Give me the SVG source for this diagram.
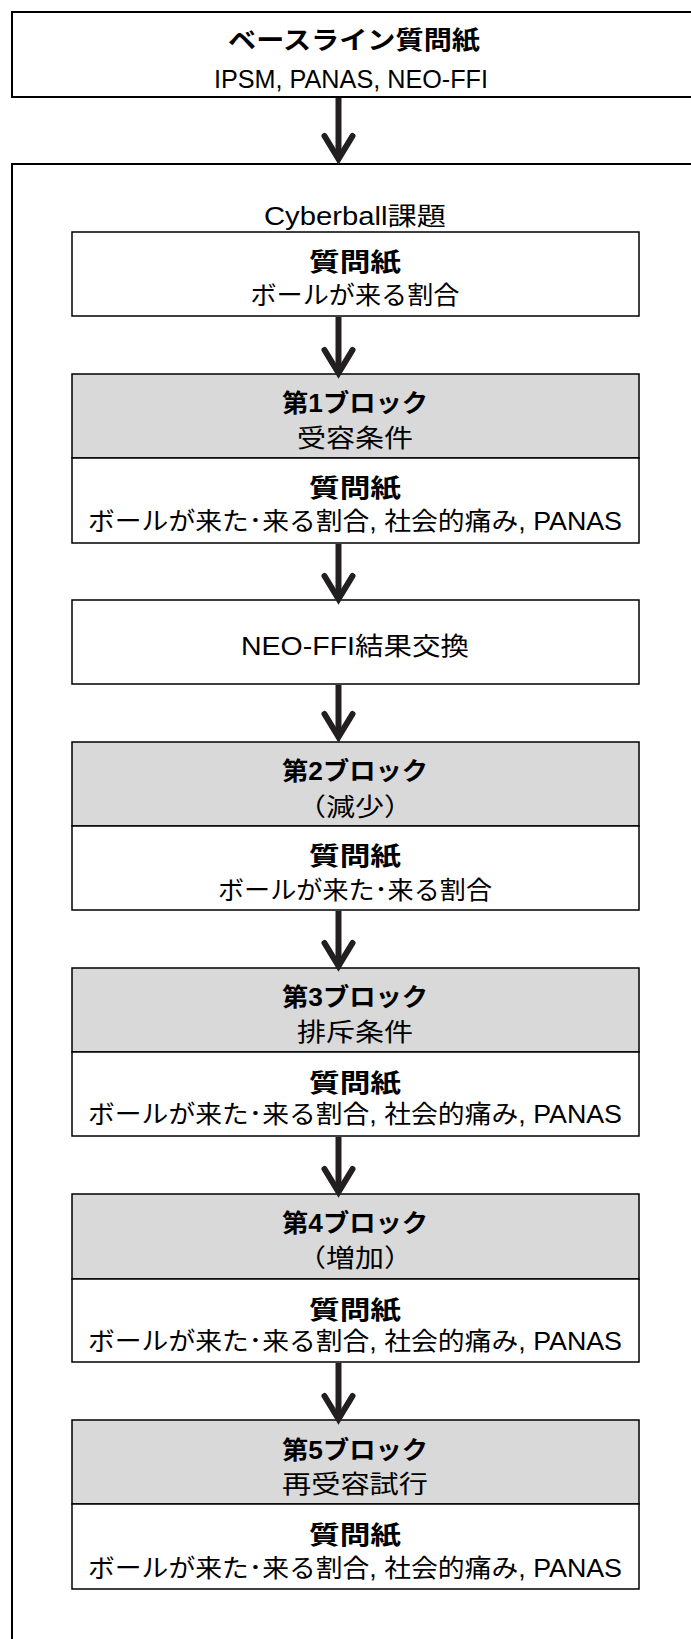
<svg xmlns="http://www.w3.org/2000/svg" width="691" height="1639" viewBox="0 0 691 1639">
<style>
text{font-family:"Liberation Sans","Noto Sans CJK JP",sans-serif;font-size:25px;fill:#000;text-anchor:middle}
.b{font-weight:bold}
.frame{fill:#fff;stroke:#000;stroke-width:2}
.box{fill:#fff;stroke:#000;stroke-width:1.5}
.hdr{fill:#d9d9d9;stroke:#000;stroke-width:1.5}
.conn line{stroke:#231f20;stroke-width:6}
</style>
<defs>
<marker id="ah" markerUnits="userSpaceOnUse" orient="auto" refX="0" refY="0" markerWidth="40" markerHeight="40" viewBox="-30 -20 40 40" overflow="visible">
<path d="M-23,-14 L0,0 L-23,14" fill="none" stroke="#231f20" stroke-width="6" stroke-linecap="round" stroke-linejoin="miter" stroke-miterlimit="10"/>
</marker>
</defs>
<rect width="691" height="1639" fill="#fff"/>

<g id="baseline">
<rect class="frame" x="12" y="12" width="700" height="85"/>
<text class="b" x="354" y="49" textLength="252" lengthAdjust="spacingAndGlyphs">ベースライン質問紙</text>
<text x="351" y="88" textLength="274" lengthAdjust="spacingAndGlyphs">IPSM, PANAS, NEO-FFI</text>
</g>

<g id="cyberball">
<rect class="frame" x="12" y="164" width="700" height="1500"/>
<text x="355" y="225" textLength="182" lengthAdjust="spacingAndGlyphs">Cyberball課題</text>
</g>

<g id="q0">
<rect class="box" x="72" y="232" width="567" height="84"/>
<text class="b" x="355" y="271" textLength="92" lengthAdjust="spacingAndGlyphs">質問紙</text>
<text x="355" y="304" textLength="209" lengthAdjust="spacingAndGlyphs">ボールが来る割合</text>
</g>

<g id="block1">
<rect class="hdr" x="72" y="374" width="567" height="84"/>
<rect class="box" x="72" y="458" width="567" height="85"/>
<text class="b" x="355" y="412" textLength="146" lengthAdjust="spacingAndGlyphs">第1ブロック</text>
<text x="355" y="447" textLength="116" lengthAdjust="spacingAndGlyphs">受容条件</text>
<text class="b" x="355" y="497" textLength="92" lengthAdjust="spacingAndGlyphs">質問紙</text>
<text x="355" y="530" textLength="534" lengthAdjust="spacingAndGlyphs">ボールが来た･来る割合, 社会的痛み, PANAS</text>
</g>

<g id="neo">
<rect class="box" x="72" y="600" width="567" height="84"/>
<text x="355" y="655" textLength="228" lengthAdjust="spacingAndGlyphs">NEO-FFI結果交換</text>
</g>

<g id="block2">
<rect class="hdr" x="72" y="742" width="567" height="84"/>
<rect class="box" x="72" y="826" width="567" height="84"/>
<text class="b" x="355" y="780" textLength="146" lengthAdjust="spacingAndGlyphs">第2ブロック</text>
<text x="355" y="816" textLength="116" lengthAdjust="spacingAndGlyphs">（減少）</text>
<text class="b" x="355" y="865" textLength="92" lengthAdjust="spacingAndGlyphs">質問紙</text>
<text x="355" y="899" textLength="274" lengthAdjust="spacingAndGlyphs">ボールが来た･来る割合</text>
</g>

<g id="block3">
<rect class="hdr" x="72" y="968" width="567" height="84"/>
<rect class="box" x="72" y="1052" width="567" height="84"/>
<text class="b" x="355" y="1006" textLength="146" lengthAdjust="spacingAndGlyphs">第3ブロック</text>
<text x="355" y="1041" textLength="116" lengthAdjust="spacingAndGlyphs">排斥条件</text>
<text class="b" x="355" y="1092" textLength="92" lengthAdjust="spacingAndGlyphs">質問紙</text>
<text x="355" y="1123" textLength="534" lengthAdjust="spacingAndGlyphs">ボールが来た･来る割合, 社会的痛み, PANAS</text>
</g>

<g id="block4">
<rect class="hdr" x="72" y="1194" width="567" height="85"/>
<rect class="box" x="72" y="1279" width="567" height="83"/>
<text class="b" x="355" y="1232" textLength="146" lengthAdjust="spacingAndGlyphs">第4ブロック</text>
<text x="355" y="1267" textLength="116" lengthAdjust="spacingAndGlyphs">（増加）</text>
<text class="b" x="355" y="1319" textLength="92" lengthAdjust="spacingAndGlyphs">質問紙</text>
<text x="355" y="1350" textLength="534" lengthAdjust="spacingAndGlyphs">ボールが来た･来る割合, 社会的痛み, PANAS</text>
</g>

<g id="block5">
<rect class="hdr" x="72" y="1420" width="567" height="84"/>
<rect class="box" x="72" y="1504" width="567" height="85"/>
<text class="b" x="355" y="1459" textLength="146" lengthAdjust="spacingAndGlyphs">第5ブロック</text>
<text x="355" y="1493" textLength="146" lengthAdjust="spacingAndGlyphs">再受容試行</text>
<text class="b" x="355" y="1544" textLength="92" lengthAdjust="spacingAndGlyphs">質問紙</text>
<text x="355" y="1577" textLength="534" lengthAdjust="spacingAndGlyphs">ボールが来た･来る割合, 社会的痛み, PANAS</text>
</g>

<g id="connectors" class="conn">
<line x1="338.5" y1="98" x2="338.5" y2="159" marker-end="url(#ah)"/>
<line x1="338.5" y1="317" x2="338.5" y2="373" marker-end="url(#ah)"/>
<line x1="338.5" y1="544" x2="338.5" y2="599" marker-end="url(#ah)"/>
<line x1="338.5" y1="685" x2="338.5" y2="737" marker-end="url(#ah)"/>
<line x1="338.5" y1="911" x2="338.5" y2="966" marker-end="url(#ah)"/>
<line x1="338.5" y1="1137" x2="338.5" y2="1192" marker-end="url(#ah)"/>
<line x1="338.5" y1="1363" x2="338.5" y2="1419" marker-end="url(#ah)"/>
</g>
</svg>
